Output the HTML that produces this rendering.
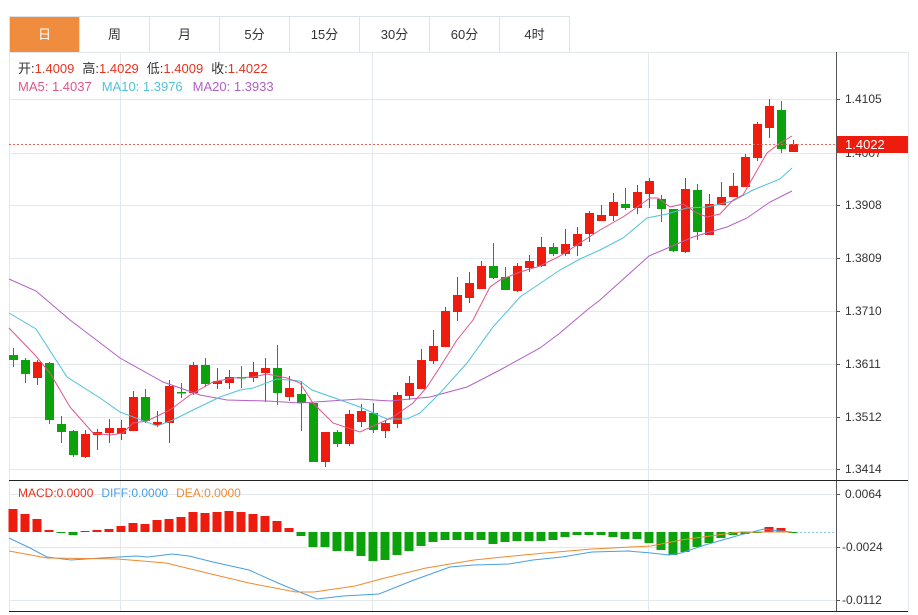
<!DOCTYPE html>
<html><head><meta charset="utf-8"><style>
body{margin:0;background:#fff;width:918px;height:615px;overflow:hidden;font-family:"Liberation Sans","Noto Sans CJK SC",sans-serif}
.tabs{position:absolute;left:9px;top:16px;height:35px;display:flex;border:1px solid #dde2e6;border-right:none}
.tab{width:69px;height:35px;line-height:35px;text-align:center;font-size:13px;color:#333;border-right:1px solid #dde2e6}
.tab.a{background:#f08c3e;color:#fff}
svg{position:absolute;left:0;top:0}
</style></head><body>
<div class="tabs"><div class="tab a">日</div><div class="tab">周</div><div class="tab">月</div><div class="tab">5分</div><div class="tab">15分</div><div class="tab">30分</div><div class="tab">60分</div><div class="tab">4时</div></div>
<svg id="s" width="918" height="615" xmlns="http://www.w3.org/2000/svg" font-family="Liberation Sans, Noto Sans CJK SC, sans-serif">
<g stroke="#e3e8ec" stroke-width="1">
<line x1="9" y1="52.5" x2="908" y2="52.5"/>
<line x1="9" y1="99.5" x2="836" y2="99.5"/><line x1="9" y1="153.5" x2="836" y2="153.5"/><line x1="9" y1="205.5" x2="836" y2="205.5"/><line x1="9" y1="258.5" x2="836" y2="258.5"/><line x1="9" y1="311.5" x2="836" y2="311.5"/><line x1="9" y1="364.5" x2="836" y2="364.5"/><line x1="9" y1="417.5" x2="836" y2="417.5"/><line x1="9" y1="469.5" x2="836" y2="469.5"/>
<line x1="9" y1="494.5" x2="836" y2="494.5"/><line x1="9" y1="547.5" x2="836" y2="547.5"/><line x1="9" y1="600.5" x2="836" y2="600.5"/>
<line x1="120.5" y1="52" x2="120.5" y2="612"/><line x1="372.5" y1="52" x2="372.5" y2="612"/><line x1="648.5" y1="52" x2="648.5" y2="612"/>
<line x1="9.5" y1="52" x2="9.5" y2="612"/><line x1="908.5" y1="52" x2="908.5" y2="612"/>
</g>
<line x1="836.5" y1="52" x2="836.5" y2="612" stroke="#555"/>
<line x1="9" y1="480.5" x2="908" y2="480.5" stroke="#222"/>
<line x1="9" y1="611.5" x2="908" y2="611.5" stroke="#222"/>
<g id="g"></g>
<g font-size="12" fill="#333">
<text x="845" y="103">1.4105</text><text x="845" y="157">1.4007</text><text x="845" y="209">1.3908</text><text x="845" y="262">1.3809</text><text x="845" y="315">1.3710</text><text x="845" y="368">1.3611</text><text x="845" y="421">1.3512</text><text x="845" y="473">1.3414</text>
<text x="845" y="498">0.0064</text><text x="842" y="551">-0.0024</text><text x="842" y="604">-0.0112</text>
</g>
<g stroke="#555"><line x1="836" y1="99.5" x2="840" y2="99.5"/><line x1="836" y1="205.5" x2="840" y2="205.5"/><line x1="836" y1="258.5" x2="840" y2="258.5"/><line x1="836" y1="311.5" x2="840" y2="311.5"/><line x1="836" y1="364.5" x2="840" y2="364.5"/><line x1="836" y1="417.5" x2="840" y2="417.5"/><line x1="836" y1="469.5" x2="840" y2="469.5"/><line x1="836" y1="494.5" x2="840" y2="494.5"/><line x1="836" y1="547.5" x2="840" y2="547.5"/><line x1="836" y1="600.5" x2="840" y2="600.5"/></g>
<line x1="9" y1="144.5" x2="836" y2="144.5" stroke="#e8665e" stroke-dasharray="2,2"/>
<rect x="837" y="136" width="71" height="17" fill="#ee1c0e"/>
<text x="845" y="149" font-size="13" fill="#fff">1.4022</text>
<line x1="800" y1="532.5" x2="836" y2="532.5" stroke="#8cc8e8" stroke-dasharray="2,2"/>
<text x="18" y="73" font-size="13"><tspan fill="#333">开:</tspan><tspan fill="#e8321e">1.4009</tspan><tspan fill="#333" dx="8">高:</tspan><tspan fill="#e8321e">1.4029</tspan><tspan fill="#333" dx="8">低:</tspan><tspan fill="#e8321e">1.4009</tspan><tspan fill="#333" dx="8">收:</tspan><tspan fill="#e8321e">1.4022</tspan></text>
<text x="18" y="91" font-size="13"><tspan fill="#e0558a">MA5: 1.4037</tspan><tspan fill="#4fc3d9" dx="10">MA10: 1.3976</tspan><tspan fill="#b25fc4" dx="10">MA20: 1.3933</tspan></text>
<text x="18" y="497" font-size="12"><tspan fill="#e8321e">MACD:0.0000</tspan><tspan fill="#4a9fe0" dx="8">DIFF:0.0000</tspan><tspan fill="#f08a30" dx="8">DEA:0.0000</tspan></text>
</svg>
<script>
var C=[[355,360,348,367,0],[360,374,358,383,0],[378,362,360,385,1],[363,420,362,424,0],[424,432,416,443,0],[431,455,430,457,0],[457,434,430,458,1],[435,432,429,450,1],[433,428,419,443,1],[434,428,420,440,1],[431,397,391,431,1],[397,421,389,423,0],[425,422,411,427,1],[423,386,380,443,1],[392,393,383,398,0],[393,365,362,395,1],[365,384,358,387,0],[384,381,368,389,1],[383,377,370,389,1],[377,378,366,388,0],[378,372,362,382,1],[373,368,358,402,1],[368,393,345,405,0],[397,388,376,401,1],[394,403,381,431,0],[403,462,403,462,0],[462,432,432,467,1],[432,444,430,447,0],[444,414,410,446,1],[422,411,404,427,1],[413,430,403,433,0],[431,423,420,438,1],[424,395,392,428,1],[396,383,376,400,1],[389,360,349,389,1],[361,346,330,364,1],[347,311,307,347,1],[312,295,277,321,1],[298,283,272,303,1],[289,266,261,289,1],[266,278,243,279,0],[277,290,267,290,0],[291,266,263,292,1],[268,261,255,272,1],[266,247,237,267,1],[247,254,243,256,0],[254,244,229,256,1],[246,234,227,256,1],[234,213,211,242,1],[221,215,205,221,1],[216,202,193,221,1],[204,208,188,210,0],[208,192,185,214,1],[194,181,178,208,1],[199,209,195,222,0],[209,251,209,252,0],[252,189,178,253,1],[190,232,184,240,0],[235,204,194,235,1],[205,197,182,205,1],[197,186,173,197,1],[187,157,154,187,1],[158,124,122,161,1],[128,106,99,138,1],[110,149,101,153,0],[152,144,140,152,1]];
var R='#ee1c0e',G='#0ca20c',ns='http://www.w3.org/2000/svg',g=document.getElementById('g'),h='';
function X(i){return 13+i*12;}
var M=[-23,-18,-13,-2,1,3,-1,-2,-3,-6,-9,-8,-12,-13,-15,-20,-19,-20,-21,-20,-18,-16,-11,-4];
M=M.concat([4,15,15,19,19,24,29,28,23,19,14,10,8,8,8,8,12,10,9,9,9,8,5,3,3,3,5,7,7,11,18,23,20,15,11,6,3,2],[1,-5,-4,0]);
for(var i=0;i<M.length;i++){var v=M[i],x=X(i)-4.5,c=v<0?R:G;var y=v<0?532+v:532,hh=Math.max(Math.abs(v),1);h+='<rect x="'+x+'" y="'+y+'" width="9" height="'+hh+'" fill="'+c+'"/>';}
function P(pts,col){h+='<polyline fill="none" stroke="'+col+'" stroke-width="1" points="'+pts+'"/>';}
P('9,538 30,548 47,557 71,560 101,558 136,556 148,557 172,554 189,556 213,562 249,570 278,583 302,593 317,599 343,596 379,594 414,580 450,567 474,565 509,564 533,560 562,557 592,552 628,551 651,553 669,555 681,553 705,545 740,535 764,529 781,531 792,532','#4a9fe0');
P('9,551 47,558 118,559 166,563 207,573 249,583 296,592 314,592 355,586 385,578 426,568 474,560 503,557 545,553 592,549 651,546 681,540 710,536 740,532 770,532 792,532','#f08a30');
for(var i=0;i<C.length;i++){var c=C[i],x=X(i),col=c[4]?R:G,t=Math.min(c[0],c[1]),b=Math.max(c[0],c[1]);
h+='<line x1="'+(x+0.5)+'" y1="'+c[2]+'" x2="'+(x+0.5)+'" y2="'+c[3]+'" stroke="'+col+'"/>';
h+='<rect x="'+(x-4)+'" y="'+t+'" width="9" height="'+Math.max(b-t,1.5)+'" fill="'+col+'"/>';}
P('9,279 36,291 70,320 120,358 163,382 200,395 227,400 267,401 300,403 360,399 390,401 430,397 467,387 500,370 540,348 560,333 587,310 600,300 649,256 670,247 693,237 727,227 747,218 770,202 792,191','#b25fc4');
P('9,313 36,329 67,377 100,398 120,412 157,426 173,420 193,410 220,397 240,390 253,388 277,379 300,381 312,390 360,407 387,419 407,419 420,413 440,393 467,363 493,327 520,297 560,270 580,259 600,250 623,238 647,218 667,214 687,208 707,207 733,201 753,190 780,179 792,168','#4fc3d9');
P('9,328 35,355 50,373 70,407 93,433 110,435 123,433 133,423 147,421 170,410 190,395 213,382 233,378 253,377 267,374 287,378 300,383 313,403 333,423 360,432 380,423 393,417 413,403 427,387 440,367 457,340 473,320 490,287 500,280 520,272 540,266 560,256 600,230 623,217 650,198 658,198 670,207 683,204 697,213 707,217 720,214 733,200 743,195 767,153 780,143 792,136','#e0558a');
g.innerHTML=h;
</script>
</body></html>
